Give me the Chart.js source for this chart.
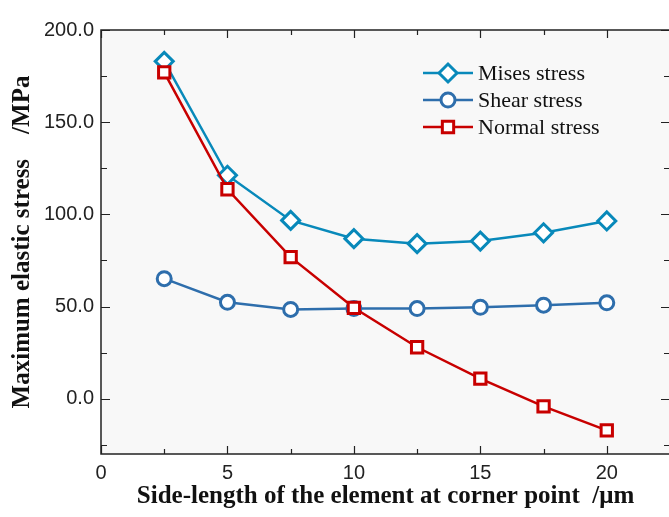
<!DOCTYPE html>
<html>
<head>
<meta charset="utf-8">
<script src="https://cdn.jsdelivr.net/npm/chart.js@4/dist/chart.umd.min.js"></script>
<style>
  html, body { margin: 0; padding: 0; background: #ffffff; overflow: hidden; }
  #wrap { width: 671px; height: 517px; }
</style>
</head>
<body>
<div id="wrap"><canvas id="stressChart" width="671" height="517"></canvas></div>
<script>
// Side-length of the corner element (um)
const sideLengths = [2.5, 5, 7.5, 10, 12.5, 15, 17.5, 20];

// Maximum elastic stress (MPa)
const misesStress = [183.0, 121.2, 96.7, 86.8, 84.1, 85.5, 90.0, 96.4];
const shearStress = [65.1, 52.3, 48.4, 48.9, 48.9, 49.6, 50.7, 52.0];
const normalStress = [177.0, 113.6, 76.8, 49.3, 27.9, 10.9, -4.2, -17.2];

const seriesNames = ['Mises stress', 'Shear stress', 'Normal stress'];

// Axis ticks
const xTicks = [0, 5, 10, 15, 20];
const xMinorTicks = [2.5, 7.5, 12.5, 17.5];
const yTicks = [0, 50, 100, 150, 200];
const yMinorTicks = [-25, 25, 75, 125, 175];

function toPoints(values) {
  return values.map((v, i) => ({ x: sideLengths[i], y: v }));
}

// Light grey plot area, framed box with inward ticks, and the legend
const framePlugin = {
  id: 'frame',
  beforeDraw(chart) {
    const { ctx, chartArea: a } = chart;
    ctx.save();
    ctx.fillStyle = '#f8f8f8';
    ctx.fillRect(a.left, a.top, a.right - a.left, a.bottom - a.top);
    ctx.restore();
  },
  afterDraw(chart) {
    const { ctx, chartArea: a, scales } = chart;
    const xs = scales.x, ys = scales.y;
    ctx.save();
    ctx.strokeStyle = '#222222';
    ctx.lineWidth = 1.5;
    ctx.strokeRect(a.left, a.top, a.right - a.left, a.bottom - a.top);

    ctx.lineWidth = 1.2;
    ctx.beginPath();
    const xTick = (v, len) => {
      const px = Math.round(xs.getPixelForValue(v)) + 0.5;
      ctx.moveTo(px, a.bottom); ctx.lineTo(px, a.bottom - len);
      ctx.moveTo(px, a.top); ctx.lineTo(px, a.top + len);
    };
    const yTick = (v, len) => {
      const py = Math.round(ys.getPixelForValue(v)) + 0.5;
      ctx.moveTo(a.left, py); ctx.lineTo(a.left + len, py);
      ctx.moveTo(a.right, py); ctx.lineTo(a.right - len, py);
    };
    xTicks.forEach(v => xTick(v, 8));
    xMinorTicks.forEach(v => xTick(v, 5));
    yTicks.forEach(v => yTick(v, 9));
    yMinorTicks.forEach(v => yTick(v, 6));
    ctx.stroke();

    // legend: line sample with marker, then label
    chart.data.datasets.forEach((ds, i) => {
      const y = 73 + i * 27;
      ctx.strokeStyle = ds.borderColor;
      ctx.lineWidth = 2.5;
      ctx.beginPath();
      ctx.moveTo(423, y);
      ctx.lineTo(473, y);
      ctx.stroke();
      ctx.fillStyle = '#ffffff';
      ctx.lineWidth = ds.pointBorderWidth;
      Chart.helpers.drawPoint(ctx, {
        pointStyle: ds.pointStyle,
        radius: ds.pointRadius,
        borderWidth: ds.pointBorderWidth,
        rotation: 0
      }, 448, y);
      ctx.fillStyle = '#111111';
      ctx.font = '22px "Liberation Serif"';
      ctx.textBaseline = 'middle';
      ctx.textAlign = 'left';
      ctx.fillText(ds.label, 478, y + 1);
    });
    ctx.restore();
  }
};

// keep the plot box edge-to-edge: no extra room for end tick labels
function dropPadding(scale) {
  scale.paddingLeft = 0;
  scale.paddingRight = 0;
  scale.paddingTop = 0;
  scale.paddingBottom = 0;
}

const ctx = document.getElementById('stressChart').getContext('2d');
new Chart(ctx, {
  type: 'line',
  data: {
    datasets: [{
      label: seriesNames[0],
      data: toPoints(misesStress),
      borderColor: '#0889ba',
      backgroundColor: '#ffffff',
      borderWidth: 2.5,
      pointStyle: 'rectRot',
      pointRadius: 9,
      pointBorderWidth: 3,
      order: 2
    }, {
      label: seriesNames[1],
      data: toPoints(shearStress),
      borderColor: '#2e6eac',
      backgroundColor: '#ffffff',
      borderWidth: 2.5,
      pointStyle: 'circle',
      pointRadius: 7,
      pointBorderWidth: 3,
      order: 1
    }, {
      label: seriesNames[2],
      data: toPoints(normalStress),
      borderColor: '#c80000',
      backgroundColor: '#ffffff',
      borderWidth: 2.5,
      pointStyle: 'rect',
      pointRadius: 8,
      pointBorderWidth: 3,
      order: 0
    }]
  },
  options: {
    responsive: false,
    animation: false,
    devicePixelRatio: 1,
    layout: { autoPadding: false, padding: { top: 30, right: 1, left: 0, bottom: 0 } },
    plugins: {
      legend: { display: false },
      tooltip: { enabled: false }
    },
    elements: { line: { tension: 0 } },
    scales: {
      x: {
        type: 'linear',
        min: 0,
        max: 22.5,
        afterFit(scale) { scale.height = 63; dropPadding(scale); },
        afterBuildTicks(scale) { scale.ticks = xTicks.map(v => ({ value: v })); },
        grid: { display: false, drawTicks: false },
        border: { display: false },
        ticks: {
          padding: 7,
          color: '#222222',
          font: { family: '"Liberation Sans"', size: 20 },
          maxRotation: 0,
          callback: v => String(v)
        },
        title: {
          display: true,
          text: 'Side-length of the element at corner point  /\u03bcm',
          color: '#111111',
          font: { family: '"Liberation Serif"', size: 25, weight: 'bold' },
          padding: { top: 0, bottom: 5 }
        }
      },
      y: {
        min: -30,
        max: 200,
        afterFit(scale) { scale.width = 101; dropPadding(scale); },
        afterBuildTicks(scale) { scale.ticks = yTicks.map(v => ({ value: v })); },
        grid: { display: false, drawTicks: false },
        border: { display: false },
        ticks: {
          padding: 7,
          color: '#222222',
          font: { family: '"Liberation Sans"', size: 20 },
          callback: v => v.toFixed(1)
        },
        title: {
          display: true,
          text: 'Maximum elastic stress    /MPa',
          color: '#111111',
          font: { family: '"Liberation Serif"', size: 25, weight: 'bold' },
          padding: { top: 8, bottom: 0 }
        }
      }
    }
  },
  plugins: [framePlugin]
});
</script>
</body>
</html>
